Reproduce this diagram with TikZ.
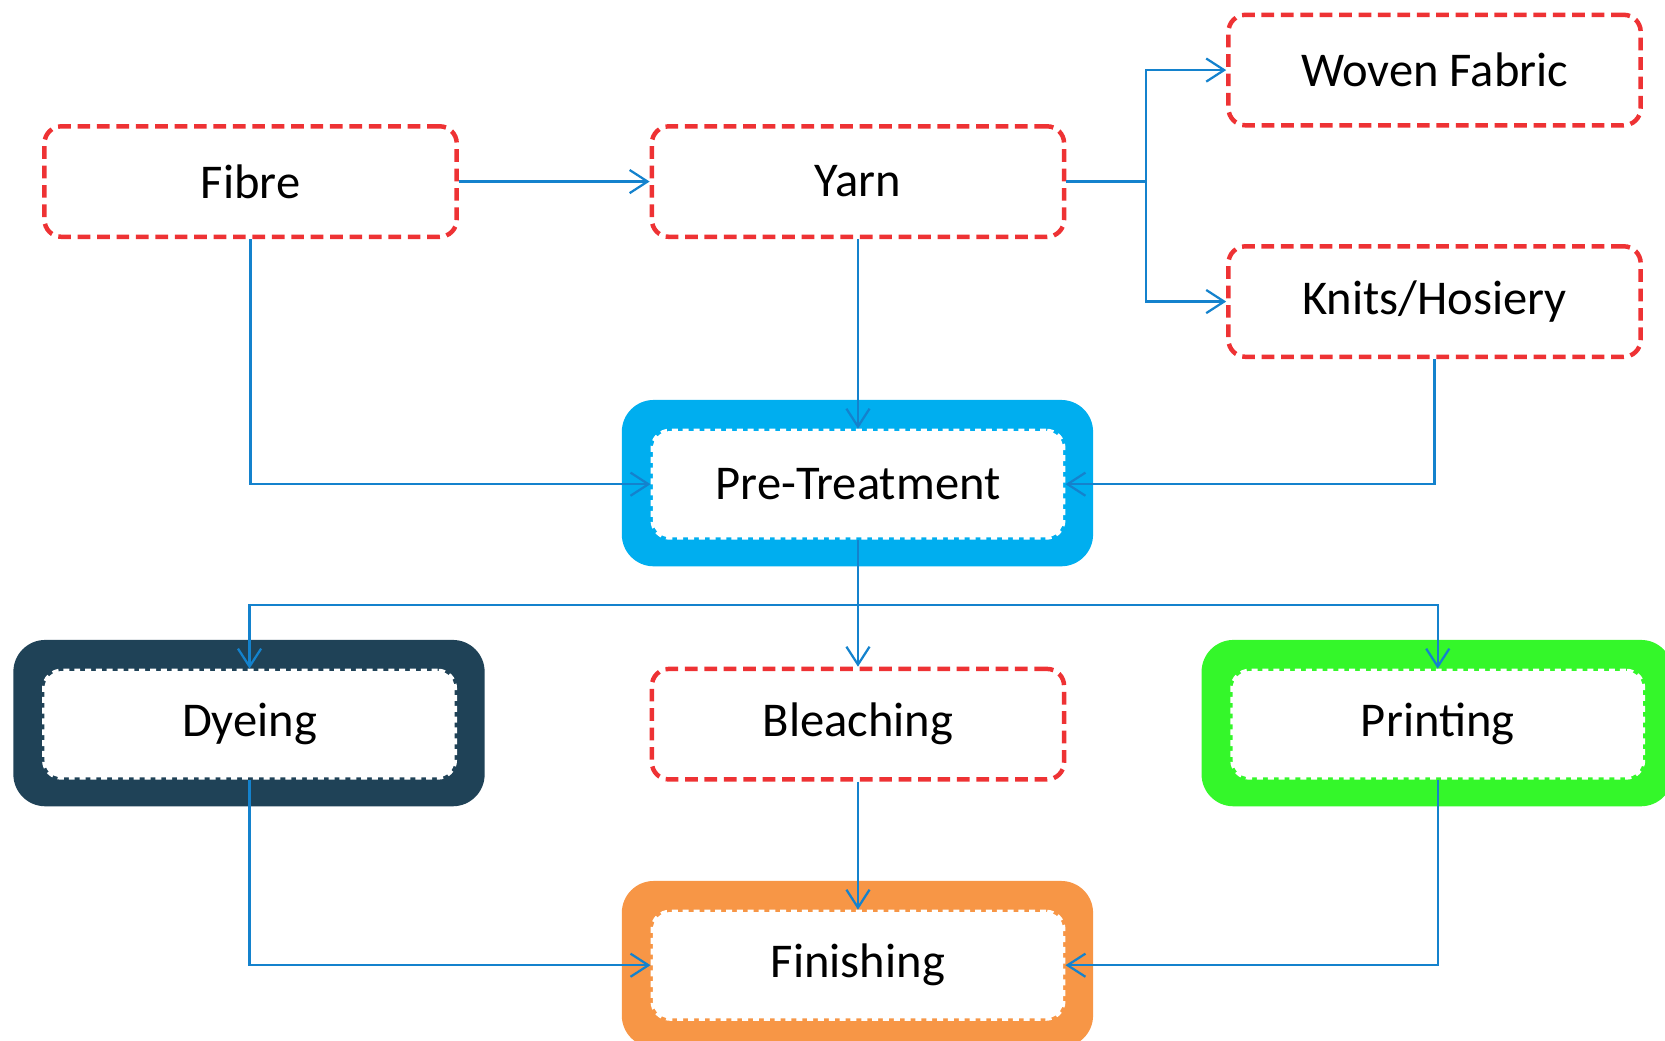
\documentclass[tikz,border=0pt]{standalone}
\usepackage{fontspec}
\setmainfont{Carlito}
\usepackage{xcolor}
\usetikzlibrary{arrows.meta,positioning,backgrounds}
\definecolor{boxred}{RGB}{238,50,52}
\definecolor{linkblue}{RGB}{20,130,205}
\definecolor{treatblue}{RGB}{0,174,239}
\definecolor{dyenavy}{RGB}{31,66,87}
\definecolor{printgreen}{RGB}{52,247,42}
\definecolor{finishorange}{RGB}{247,150,70}
\tikzset{
  redbox/.style={draw=boxred, line width=1.2pt, dash pattern=on 3.4pt off 1.8pt,
    rounded corners=0.16cm, minimum width=3.88cm, minimum height=1.04cm,
    font=\fontsize{13}{16}\selectfont},
  bandbox/.style={fill=white, draw=white, line width=1.3pt, dash pattern=on 1.6pt off 1.3pt,
    rounded corners=0.16cm, minimum width=3.86cm, minimum height=1.0cm,
    font=\fontsize{13}{16}\selectfont},
  band/.style={fill=#1, rounded corners=0.3cm},
  link/.style={draw=linkblue, line width=0.6pt},
  arr/.style={link, -{Straight Barb[length=4.8pt,width=6.2pt]}},
}
\begin{document}
\begin{tikzpicture}[x=0.01cm, y=-0.01cm]
        \useasboundingbox (0,0) rectangle (1568,980);
        \clip (0,0) rectangle (1568,980);
        %BOXES
        \node[redbox] (fibre) at (236,171) {Fibre};
        \node[redbox] (yarn) at (808,171) {Yarn};
        \node[redbox] (woven) at (1351,66) {Woven Fabric};
        \node[redbox] (knits) at (1351,284) {Knits/Hosiery};
        \node[bandbox] (pretreat) at (808,456) {Pre-Treatment};
        \node[bandbox] (dyeing) at (235,682) {Dyeing};
        \node[redbox] (bleach) at (808,682) {Bleaching};
        \node[bandbox] (printing) at (1354,682) {Printing};
        \node[bandbox] (finish) at (808,909) {Finishing};
        %BANDS
        \begin{scope}[on background layer]
          \foreach \n/\c in {pretreat/treatblue, dyeing/dyenavy, printing/printgreen, finish/finishorange}
            \fill[band=\c] ([shift={(-0.27cm,0.27cm)}]\n.north west) rectangle ([shift={(0.26cm,-0.25cm)}]\n.south east);
        \end{scope}
        %JOINTS
        \coordinate (split) at (1079,171);
        \coordinate (fork) at (808,570);
        %LINES
        \draw[arr] (fibre) -- (yarn);
        \draw[link] (yarn) -- (split);
        \draw[arr] (split) |- (woven);
        \draw[arr] (split) |- (knits);
        \draw[arr] (yarn) -- (pretreat);
        \draw[arr] (fibre) |- (pretreat);
        \draw[arr] (knits) |- (pretreat);
        \draw[link] (pretreat) -- (fork);
        \draw[arr] (fork) -| (dyeing);
        \draw[arr] (fork) -- (bleach);
        \draw[arr] (fork) -| (printing);
        \draw[arr] (dyeing) |- (finish);
        \draw[arr] (bleach) -- (finish);
        \draw[arr] (printing) |- (finish);
    \end{tikzpicture}
\end{document}
